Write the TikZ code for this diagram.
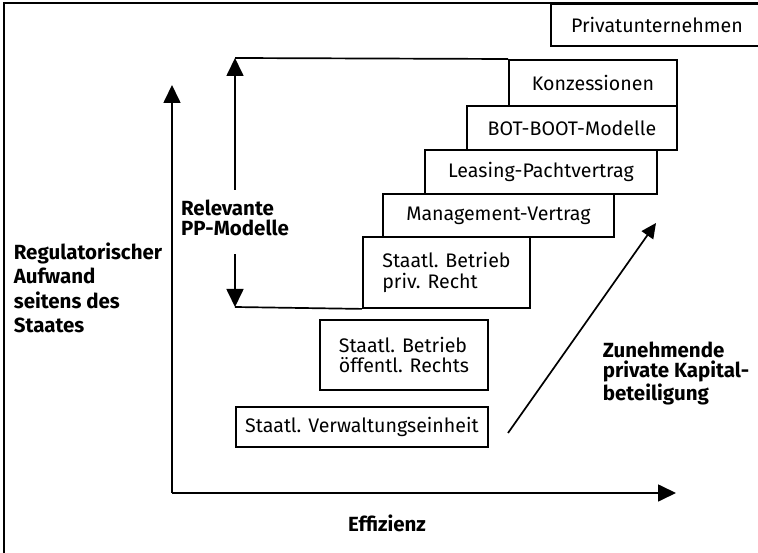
\documentclass[tikz,border=0pt]{standalone}
\usepackage{fontspec}
\setmainfont{Fira Sans}
\usetikzlibrary{arrows.meta}
\begin{document}
\begin{tikzpicture}[x={(1pt,0pt)},y={(0pt,-1pt)},
  line width=1.7pt,
  box/.style={draw,line width=1.9pt,inner sep=0pt,anchor=north west,align=left,
    font=\fontsize{19.6}{20.5}\selectfont},
  lbl/.style={font=\fontsize{20.5}{20.5}\selectfont\bfseries,align=left,inner sep=0pt},
  bigtip/.style={-{Triangle[length=18pt,width=17pt]}},
  smalltip/.style={-{Triangle[length=15pt,width=14pt]}}]
\useasboundingbox (0,0) rectangle (758,553);
% frame
\coordinate (ftl) at (4,3);
\coordinate (ftr) at (762,3);
\coordinate (fbl) at (4,560);
\draw[line width=1.6pt] (ftr) -- (ftl) -- (fbl);
% boxes
\node[box,minimum width=212pt,minimum height=42pt] (priv) at (550,3) {Privatunternehmen};
\node[box,minimum width=168pt,minimum height=46pt] (konz) at (508,59) {Konzessionen};
\node[box,minimum width=210pt,minimum height=44pt] (bot) at (466,105) {BOT-BOOT-Modelle};
\node[box,minimum width=232pt,minimum height=44pt] (leas) at (424,149) {Leasing-Pachtvertrag};
\node[box,minimum width=231pt,minimum height=43pt] (mgmt) at (382,193) {Management-Vertrag};
\node[box,minimum width=167pt,minimum height=71pt] (sbpriv) at (362,236) {Staatl. Betrieb\\priv. Recht};
\node[box,minimum width=168pt,minimum height=70pt] (sboeff) at (319,319) {Staatl. Betrieb\\öffentl. Rechts};
\node[box,minimum width=252pt,minimum height=40pt] (verw) at (235,406) {Staatl. Verwaltungseinheit};
% axes
\coordinate (origin) at (172,493);
\coordinate (ytop) at (172,85);
\coordinate (xend) at (676,493);
\draw[bigtip] (origin) -- (ytop);
\draw[bigtip] (origin) -- (xend);
% relevant models
\node[lbl,anchor=north] (relev) at (235,199) {Relevante\\PP-Modelle};
\coordinate (rtop) at (235,58);
\coordinate (rbot) at (235,307);
\draw[bigtip] ([yshift=9pt]relev.north) -- (rtop);
\draw (rtop) -- (konz.north west);
\draw[bigtip] ([yshift=-17pt]relev.south) -- (rbot);
\draw (rbot) -- (sbpriv.south west);
% diagonal
\coordinate (dstart) at (508,433);
\coordinate (dend) at (656,223);
\draw[smalltip] (dstart) -- (dend);
% labels
\node[lbl,anchor=north west] (zun) at (602,341) {Zunehmende\\private Kapital-\\beteiligung};
\node[lbl,anchor=north west,font=\fontsize{20.5}{24.5}\selectfont\bfseries] (reg) at (13,242) {Regulatorischer\\Aufwand\\seitens des\\Staates};
\node[lbl] (eff) at (387,523) {Effizienz};
\end{tikzpicture}
\end{document}
